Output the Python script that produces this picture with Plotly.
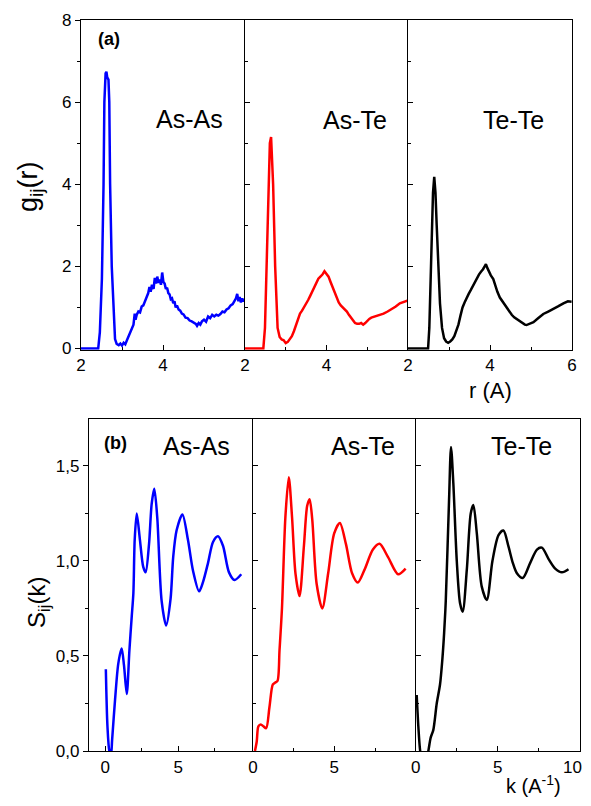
import plotly.graph_objects as go

# Page body has an 8px margin, so the figure is sized to fit the 591x806 window exactly.
W, H = 575, 790
OFF = 8  # reference pixel -> figure pixel offset
FONT = "Liberation Sans, Arial, sans-serif"

# ---------------- data ----------------
pairs = ["As-As", "As-Te", "Te-Te"]
colors = ["#0000ff", "#ff0000", "#000000"]

r_asas = [2.00, 2.42, 2.46, 2.51, 2.55, 2.57, 2.60, 2.62, 2.64, 2.67, 2.69, 2.71, 2.75, 2.79, 2.83, 2.87,
          2.92, 2.96, 3.00, 3.04, 3.08, 3.12, 3.16, 3.20, 3.24, 3.28, 3.31, 3.33, 3.36, 3.40, 3.44, 3.48,
          3.52, 3.56, 3.60, 3.64, 3.67, 3.70, 3.73, 3.77, 3.80, 3.83, 3.86, 3.89, 3.92, 3.95, 3.98, 4.01,
          4.04, 4.07, 4.10, 4.13, 4.16, 4.19, 4.22, 4.25, 4.28, 4.31, 4.34, 4.38, 4.42, 4.46, 4.50, 4.55,
          4.60, 4.65, 4.70, 4.75, 4.80, 4.83, 4.87, 4.91, 4.95, 5.00, 5.05, 5.10, 5.15, 5.20, 5.25, 5.30,
          5.35, 5.40, 5.45, 5.50, 5.55, 5.60, 5.65, 5.70, 5.74, 5.78, 5.81, 5.84, 5.87, 5.90, 5.93, 5.96, 5.99]
g_asas = [0.00, 0.00, 0.40, 1.70, 4.00, 6.00, 6.70, 6.74, 6.60, 6.55, 6.00, 4.00, 2.00, 0.88, 0.23, 0.11,
          0.08, 0.12, 0.07, 0.14, 0.10, 0.20, 0.30, 0.36, 0.50, 0.58, 0.85, 0.70, 0.82, 0.90, 0.88, 1.02,
          1.05, 1.15, 1.22, 1.35, 1.50, 1.38, 1.55, 1.45, 1.72, 1.58, 1.75, 1.60, 1.68, 1.55, 1.85, 1.62,
          1.58, 1.45, 1.48, 1.35, 1.32, 1.20, 1.22, 1.10, 1.15, 1.00, 1.05, 0.95, 0.92, 0.85, 0.83, 0.75,
          0.74, 0.68, 0.66, 0.62, 0.60, 0.55, 0.62, 0.58, 0.66, 0.70, 0.65, 0.78, 0.74, 0.82, 0.78, 0.82,
          0.80, 0.84, 0.90, 0.88, 0.95, 0.98, 1.05, 1.08, 1.15, 1.22, 1.33, 1.15, 1.25, 1.12, 1.22, 1.15, 1.20]

r_aste = [2.00, 2.45, 2.49, 2.53, 2.57, 2.61, 2.64, 2.66, 2.69, 2.74, 2.80, 2.85, 2.90, 2.95, 3.00, 3.05,
          3.10, 3.15, 3.20, 3.25, 3.30, 3.35, 3.40, 3.45, 3.50, 3.55, 3.60, 3.65, 3.70, 3.75, 3.80, 3.85,
          3.90, 3.95, 4.00, 4.05, 4.10, 4.15, 4.20, 4.25, 4.30, 4.35, 4.40, 4.45, 4.50, 4.55, 4.60, 4.65,
          4.70, 4.75, 4.80, 4.85, 4.90, 4.95, 5.00, 5.05, 5.10, 5.20, 5.30, 5.40, 5.50, 5.60, 5.70, 5.80,
          5.90, 6.00]
g_aste = [0.00, 0.00, 0.50, 2.00, 4.00, 5.00, 5.15, 4.80, 4.00, 2.00, 0.50, 0.28, 0.22, 0.20, 0.13, 0.16,
          0.22, 0.30, 0.42, 0.58, 0.72, 0.85, 0.92, 1.00, 1.10, 1.18, 1.28, 1.38, 1.48, 1.60, 1.70, 1.75,
          1.80, 1.88, 1.80, 1.75, 1.62, 1.50, 1.38, 1.25, 1.12, 1.05, 1.00, 0.95, 0.90, 0.82, 0.75, 0.68,
          0.62, 0.60, 0.60, 0.62, 0.58, 0.62, 0.68, 0.72, 0.75, 0.78, 0.82, 0.85, 0.90, 0.95, 1.02, 1.10,
          1.14, 1.17]

r_tete = [2.00, 2.49, 2.52, 2.56, 2.61, 2.64, 2.67, 2.70, 2.74, 2.78, 2.83, 2.88, 2.93, 2.98, 3.03, 3.08,
          3.13, 3.18, 3.23, 3.28, 3.33, 3.38, 3.43, 3.48, 3.53, 3.58, 3.63, 3.68, 3.73, 3.78, 3.83, 3.88,
          3.90, 3.94, 3.98, 4.02, 4.08, 4.13, 4.18, 4.24, 4.30, 4.36, 4.41, 4.47, 4.53, 4.59, 4.65, 4.72,
          4.79, 4.85, 4.89, 4.95, 5.06, 5.18, 5.30, 5.42, 5.55, 5.67, 5.79, 5.90, 5.99]
g_tete = [0.00, 0.00, 0.50, 2.00, 3.80, 4.18, 3.80, 3.00, 2.00, 1.10, 0.50, 0.25, 0.17, 0.14, 0.17, 0.22,
          0.30, 0.42, 0.58, 0.80, 1.00, 1.12, 1.25, 1.33, 1.42, 1.52, 1.60, 1.72, 1.80, 1.87, 1.93, 2.02,
          2.05, 1.95, 1.85, 1.78, 1.69, 1.50, 1.38, 1.24, 1.15, 1.07, 1.00, 0.90, 0.82, 0.76, 0.72, 0.66,
          0.61, 0.58, 0.57, 0.60, 0.64, 0.74, 0.84, 0.90, 0.96, 1.03, 1.10, 1.15, 1.14]

k_asas = [0.05, 0.16, 0.29, 0.40, 0.48, 0.68, 0.90, 1.13, 1.29, 1.48, 1.66, 1.82, 1.93, 2.02, 2.16, 2.38,
          2.60, 2.77, 3.00, 3.18, 3.36, 3.56, 3.86, 4.17, 4.47, 4.65, 4.88, 5.28, 5.66, 6.00, 6.42, 6.69,
          7.03, 7.37, 7.71, 8.05, 8.46, 8.84, 9.30]
s_asas = [0.43, 0.13, 0.00, -0.02, 0.06, 0.27, 0.46, 0.54, 0.45, 0.30, 0.53, 0.71, 0.83, 1.11, 1.25, 1.11,
          0.97, 0.94, 1.09, 1.30, 1.38, 1.23, 0.79, 0.66, 0.80, 1.02, 1.16, 1.245, 1.11, 0.95, 0.84, 0.89,
          0.99, 1.10, 1.13, 1.08, 0.94, 0.90, 0.93]

k_aste = [0.12, 0.23, 0.33, 0.48, 0.64, 0.81, 1.01, 1.22, 1.37, 1.51, 1.63, 1.78, 1.99, 2.20, 2.40, 2.61,
          2.86, 3.13, 3.33, 3.48, 3.64, 3.91, 4.26, 4.62, 4.99, 5.34, 5.71, 6.09, 6.44, 6.85, 7.37, 7.78,
          8.30, 8.92, 9.38]
s_aste = [0.00, 0.05, 0.13, 0.14, 0.13, 0.12, 0.23, 0.35, 0.36, 0.37, 0.53, 0.75, 1.23, 1.44, 1.23, 0.935,
          0.815, 1.08, 1.29, 1.325, 1.22, 0.88, 0.75, 0.935, 1.145, 1.20, 1.09, 0.935, 0.886, 0.953, 1.06, 1.09,
          1.02, 0.93, 0.96]

k_tete = [0.06, 0.16, 0.26, 0.37, 0.57, 0.77, 0.91, 1.07, 1.28, 1.48, 1.62, 1.73, 1.83, 2.03, 2.15, 2.29,
          2.50, 2.70, 2.86, 3.11, 3.35, 3.51, 3.72, 4.02, 4.33, 4.67, 5.04, 5.34, 5.65, 5.91, 6.16, 6.52,
          6.97, 7.38, 7.68, 8.09, 8.49, 8.90, 9.30]
s_tete = [0.295, 0.13, 0.01, -0.05, -0.08, 0.00, 0.07, 0.11, 0.25, 0.35, 0.48, 0.62, 0.79, 1.32, 1.60, 1.41,
          1.00, 0.777, 0.733, 0.953, 1.25, 1.295, 1.145, 0.865, 0.795, 1.00, 1.136, 1.16, 1.075, 0.99, 0.935, 0.91,
          0.99, 1.06, 1.07, 1.01, 0.96, 0.94, 0.956]

g_ticks = [0, 2, 4, 6, 8]
g_minor = [1, 3, 5, 7]
s_ticks = [0, 0.5, 1.0, 1.5]
s_ticktext = ["0,0", "0,5", "1,0", "1,5"]
s_minor = [0.25, 0.75, 1.25]
k_last_tick = 10

r_data = [(r_asas, g_asas), (r_aste, g_aste), (r_tete, g_tete)]
k_data = [(k_asas, s_asas), (k_aste, s_aste), (k_tete, s_tete)]

# ---------------- layout geometry (reference-window pixels) ----------------
def fx(x):
    return (x - OFF) / W

def fy(y):
    return 1 - (y - OFF) / H

top_x = [(81, 245), (245, 408), (408, 572)]
bot_x = [(89, 253), (253, 415.7), (415.7, 580)]
top_y = (20, 349.7)
bot_y = (419, 751)

fig = go.Figure()

for i, ((xs, ys), c) in enumerate(zip(r_data, colors)):
    n = i + 1
    fig.add_trace(go.Scatter(x=xs, y=ys, mode="lines", line=dict(color=c, width=2.5),
                             xaxis="x" if n == 1 else f"x{n}", yaxis="y" if n == 1 else f"y{n}",
                             showlegend=False, hoverinfo="skip"))
for i, ((xs, ys), c) in enumerate(zip(k_data, colors)):
    n = i + 4
    fig.add_trace(go.Scatter(x=xs, y=ys, mode="lines", line=dict(color=c, width=2.5, shape="spline", smoothing=0.8),
                             xaxis=f"x{n}", yaxis=f"y{n}", showlegend=False, hoverinfo="skip"))

TICK_SIZE = 17
tickfont = dict(family=FONT, size=TICK_SIZE, color="black")
common = dict(showline=True, linecolor="black", linewidth=1.4, showgrid=False,
              zeroline=False, tickcolor="black", tickwidth=1.3, tickfont=tickfont, layer="below traces",
              automargin=False)

layout = {}
for row in range(2):
    for i in range(3):
        n = row * 3 + i + 1
        xa = "xaxis" if n == 1 else f"xaxis{n}"
        ya = "yaxis" if n == 1 else f"yaxis{n}"
        xref = "x" if n == 1 else f"x{n}"
        yref = "y" if n == 1 else f"y{n}"
        if row == 0:
            xdom, ydom = top_x[i], top_y
            xt = [2, 4, 6] if i == 2 else [2, 4]
            rng = [2, 6]
            xminor = [3, 5]
            yrng = [-0.03, 8]
            yt, ytt, yminor = g_ticks, [str(v) for v in g_ticks], g_minor
        else:
            xdom, ydom = bot_x[i], bot_y
            xt = [0, 5]
            rng = [-1.1, 10.1] if i == 0 else [0, 10]
            xminor = [2.5, 7.5, k_last_tick] if i == 2 else [2.5, 7.5]
            yrng = [0, 1.747]
            yt, ytt, yminor = s_ticks, s_ticktext, s_minor
        layout[xa] = dict(common, domain=[fx(xdom[0]), fx(xdom[1])], range=rng, mirror=True,
                          tickmode="array", tickvals=xt, ticks="inside", ticklen=5,
                          minor=dict(tickvals=xminor, ticks="inside", ticklen=3, tickcolor="black", tickwidth=1.3),
                          anchor=yref)
        yticks = "outside" if i == 0 else "inside"
        layout[ya] = dict(common, domain=[fy(ydom[1]), fy(ydom[0])], range=yrng,
                          mirror=(i == 2),
                          tickmode="array", tickvals=yt, ticktext=ytt, showticklabels=(i == 0),
                          ticks=yticks, ticklen=5,
                          minor=dict(tickvals=yminor, ticks=yticks, ticklen=3, tickcolor="black", tickwidth=1.3),
                          anchor=xref)

fig.update_layout(**layout)

def ann(text, x, y, size, bold=False, angle=0):
    t = f"<b>{text}</b>" if bold else text
    return dict(text=t, x=fx(x), y=fy(y), xref="paper", yref="paper", showarrow=False,
                xanchor="center", yanchor="middle", textangle=angle,
                font=dict(family=FONT, size=size, color="black"))

annotations = [
    ann("(a)", 109, 39, 18, bold=True),
    ann("(b)", 116, 443, 18, bold=True),
    ann(pairs[0], 189, 119, 25), ann(pairs[1], 355, 120, 25), ann(pairs[2], 513, 120, 25),
    ann(pairs[0], 196, 446, 25), ann(pairs[1], 363, 446, 25), ann(pairs[2], 521, 446, 25),
    ann("g<sub>ij</sub>(r)", 30, 187, 27, angle=-90),
    ann("r (A)", 490, 391, 22),
    ann("S<sub>ij</sub>(k)", 38, 603, 24, angle=-90),
    ann("k (A<sup>-1</sup>)", 533, 784, 20),
    # last tick label of the k axis, kept inside the page edge
    dict(text=str(k_last_tick), x=k_last_tick, xref="x6", y=fy(767), yref="paper",
         xanchor="right", yanchor="middle", xshift=4, showarrow=False,
         font=dict(family=FONT, size=TICK_SIZE, color="black")),
]

fig.update_layout(width=W, height=H, margin=dict(l=0, r=0, t=0, b=0, pad=0, autoexpand=False),
                  paper_bgcolor="white", plot_bgcolor="white", annotations=annotations)

fig.write_html("out.html")
